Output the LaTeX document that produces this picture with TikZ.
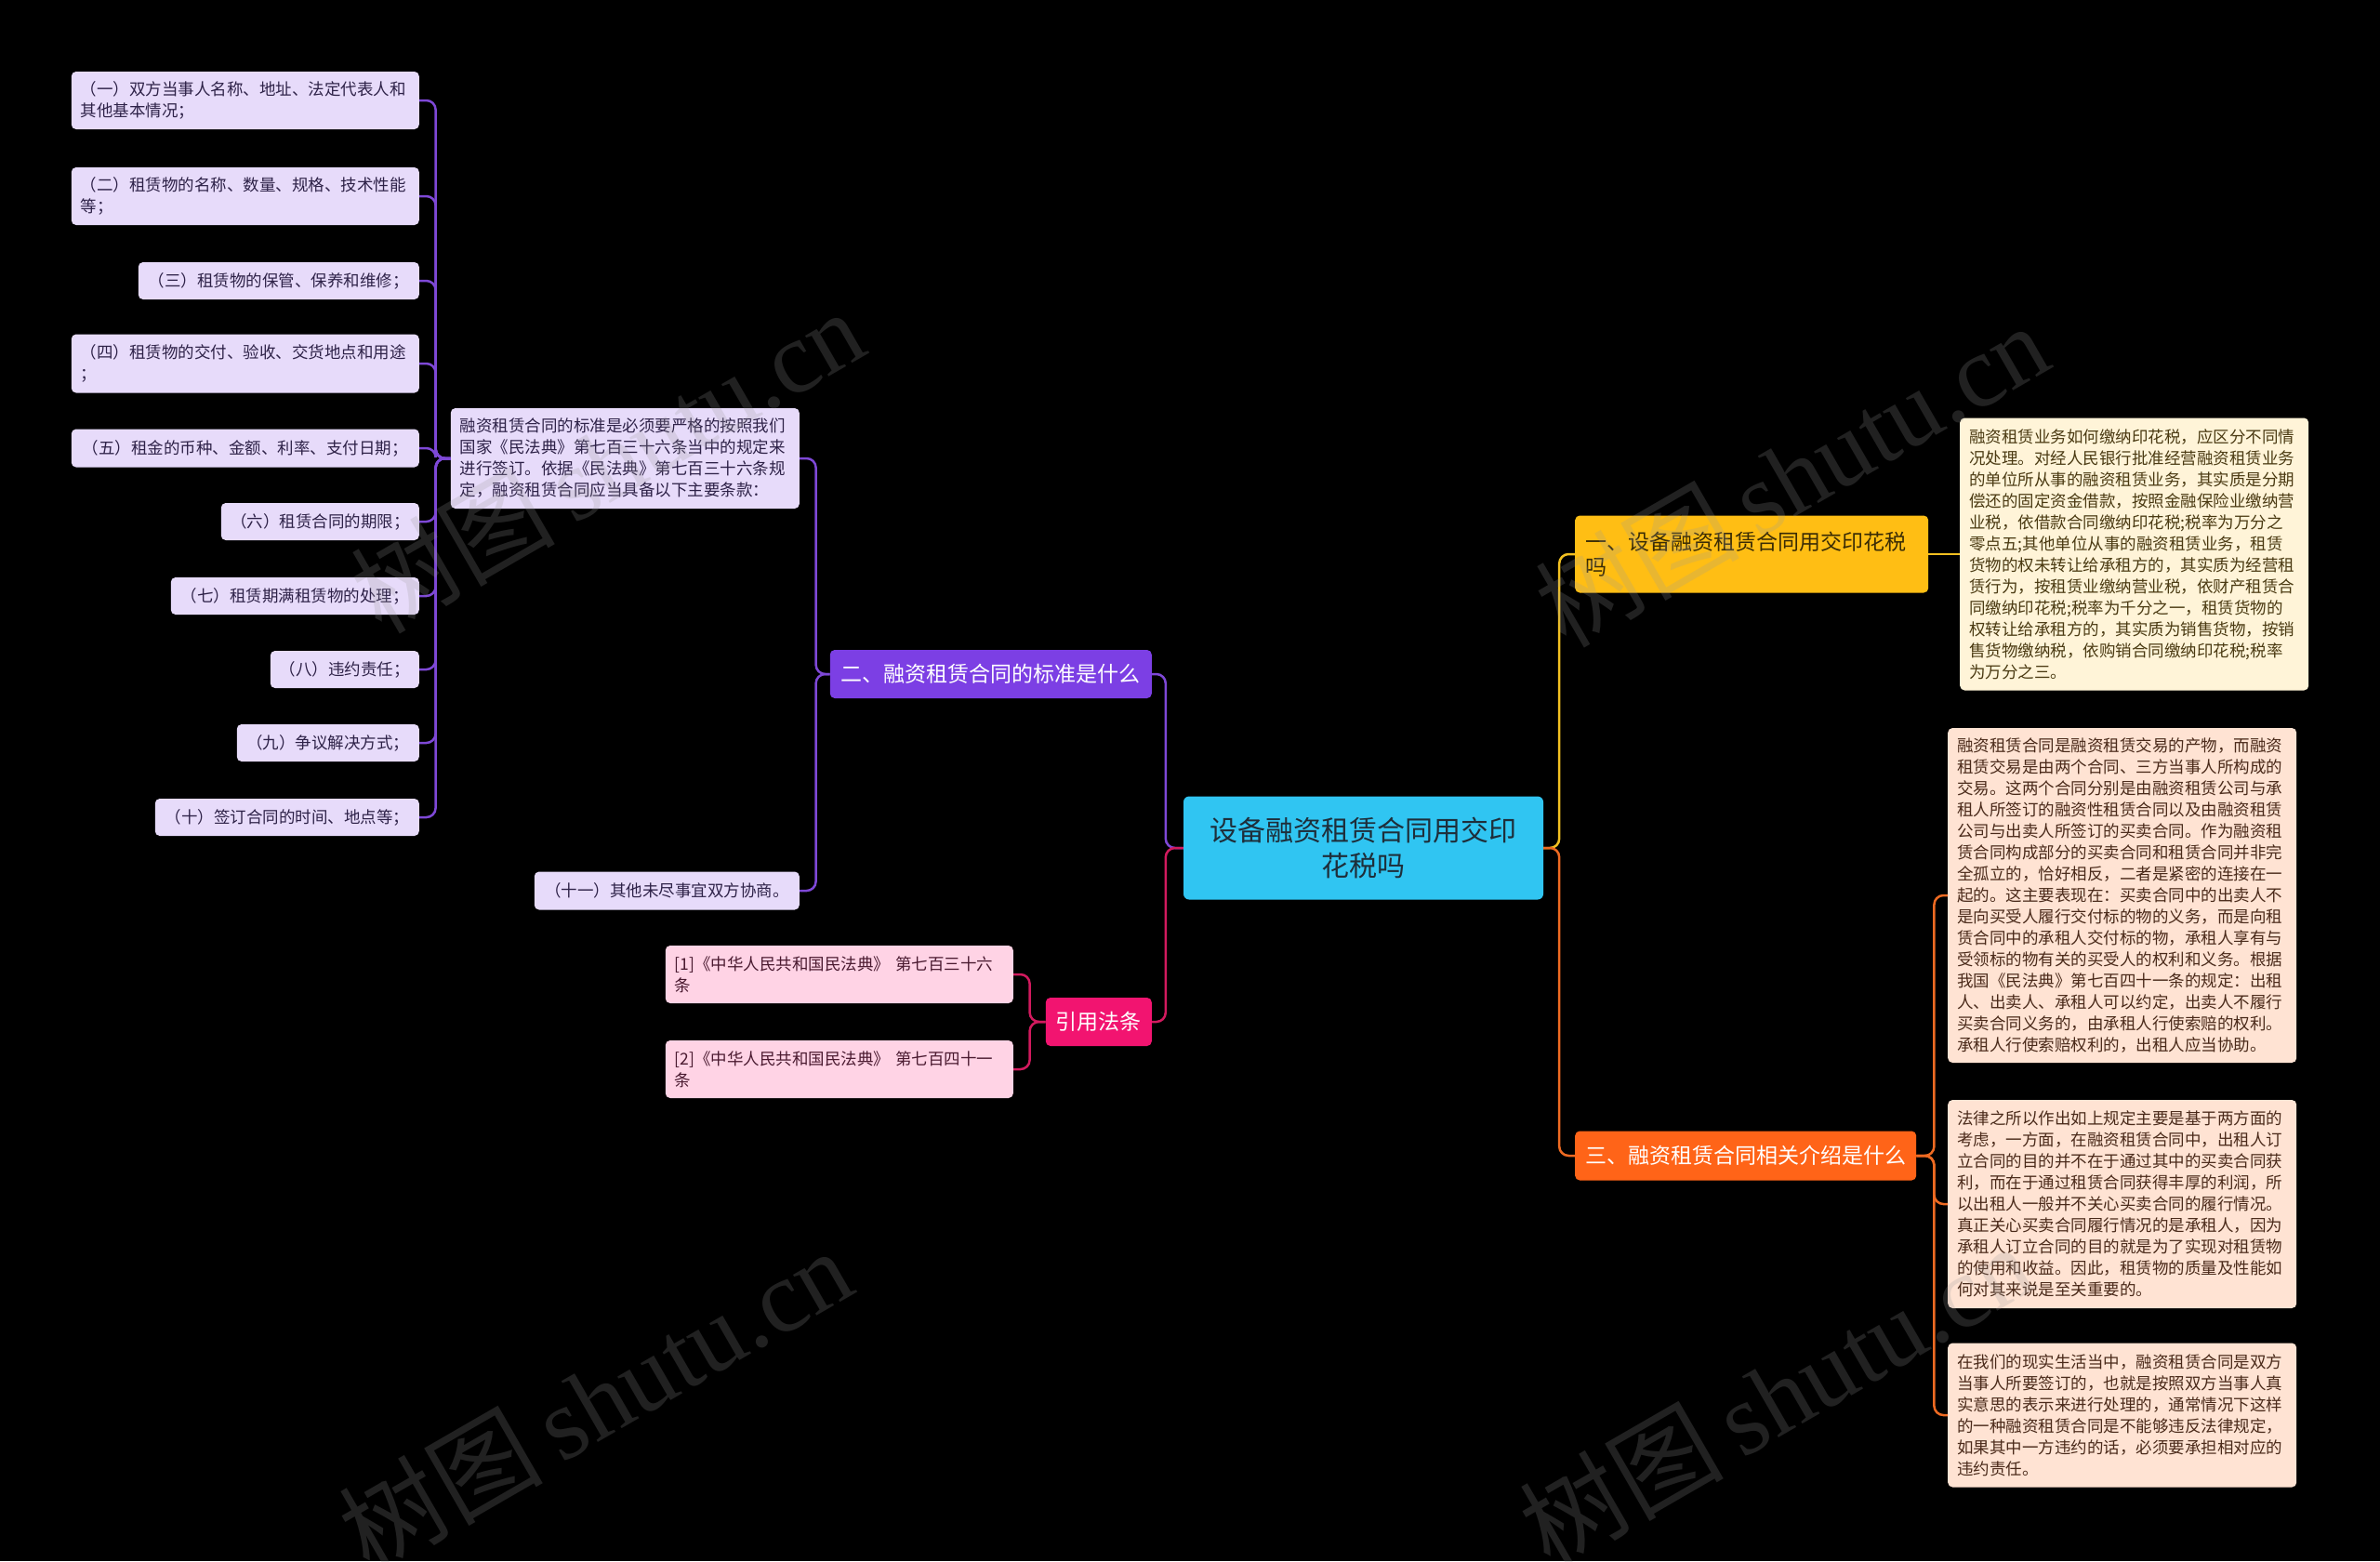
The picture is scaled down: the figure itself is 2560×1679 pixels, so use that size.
\documentclass[tikz,border=0pt]{standalone}
\usepackage{fontspec}
\setmainfont{Noto Sans CJK SC}
\newfontfamily\wmserif{Liberation Serif}
\newfontfamily\wmcjk{Noto Sans CJK SC}
\usetikzlibrary{calc}

\definecolor{cblue}{HTML}{30C5F2}
\definecolor{cbluetxt}{HTML}{1E2E3A}
\definecolor{cyel}{HTML}{FFBE14}
\definecolor{cyeltxtd}{HTML}{3A2C05}
\definecolor{cyelline}{HTML}{F2C021}
\definecolor{cyelleaf}{HTML}{FFF4D8}
\definecolor{cyeltxt}{HTML}{4A3A12}
\definecolor{cora}{HTML}{FF6418}
\definecolor{coraline}{HTML}{EE6A22}
\definecolor{coraleaf}{HTML}{FFE3D3}
\definecolor{coratxt}{HTML}{4A2A1A}
\definecolor{cpur}{HTML}{7C3FE4}
\definecolor{cpurline}{HTML}{7E48D6}
\definecolor{cpurleaf}{HTML}{E7DBFA}
\definecolor{cpurtxt}{HTML}{2E2248}
\definecolor{cpink}{HTML}{F21470}
\definecolor{cpinkline}{HTML}{D21A5E}
\definecolor{cpinkleaf}{HTML}{FFD3E5}
\definecolor{cpinktxt}{HTML}{4A1A30}
\definecolor{wmgray}{HTML}{9A9A9A}

\tikzset{
  box/.style={rounded corners=5pt, align=left, inner xsep=10pt, inner ysep=0pt,
    font=\fontsize{17.5}{23}\selectfont},
  purleaf/.style={box, fill=cpurleaf, text=cpurtxt},
  pinkleaf/.style={box, fill=cpinkleaf, text=cpinktxt},
  yelleaf/.style={box, fill=cyelleaf, text=cyeltxt},
  oraleaf/.style={box, fill=coraleaf, text=coratxt},
  topic/.style={rounded corners=5pt, inner xsep=11pt, inner ysep=0pt,
    font=\fontsize{23}{27}\selectfont},
  conn/.style={line width=2.5pt, rounded corners=10pt},
  wmark/.style={text=wmgray, opacity=0.22, rotate=30, inner sep=0pt}
}

\begin{document}
\begin{tikzpicture}[x=1pt, y=-1pt]
\fill[black] (0,0) rectangle (2560,1679);
\useasboundingbox (0,0) rectangle (2560,1679);

% central node
\node[rounded corners=6pt, fill=cblue, text=cbluetxt, align=center, text width=370pt,
  minimum width=387pt, minimum height=111pt, inner sep=0pt,
  font=\fontsize{30}{38}\selectfont] (c) at (1466.5,912) {设备融资租赁合同用交印\\花税吗};

% level 1
\node[topic, fill=cpur, text=white, minimum width=346pt, minimum height=52pt, anchor=east]
  (p) at (1239,725) {二、融资租赁合同的标准是什么};
\node[topic, fill=cpink, text=white, minimum width=114pt, minimum height=52pt, anchor=east]
  (q) at (1239,1099) {引用法条};
\node[topic, fill=cyel, text=cyeltxtd, align=left, text width=358pt, minimum height=83pt, anchor=west]
  (y) at (1694,596) {一、设备融资租赁合同用交印花税\\吗};
\node[topic, fill=cora, text=white, minimum width=367pt, minimum height=53pt, anchor=west]
  (o) at (1694,1243) {三、融资租赁合同相关介绍是什么};

% purple branch
\node[purleaf, anchor=east, text width=355pt, minimum height=108pt] (m) at (860,493)
  {融资租赁合同的标准是必须要严格的按照我们\\国家《民法典》第七百三十六条当中的规定来\\进行签订。依据《民法典》第七百三十六条规\\定，融资租赁合同应当具备以下主要条款：};
\node[purleaf, anchor=east, minimum width=285pt, minimum height=41pt] (l11) at (860,958)
  {（十一）其他未尽事宜双方协商。};

\node[purleaf, anchor=east, text width=354pt, minimum height=62pt] (l1) at (451,108)
  {（一）双方当事人名称、地址、法定代表人和\\其他基本情况；};
\node[purleaf, anchor=east, text width=354pt, minimum height=62pt] (l2) at (451,211)
  {（二）租赁物的名称、数量、规格、技术性能\\等；};
\node[purleaf, anchor=east, minimum width=302pt, minimum height=40pt] (l3) at (451,302)
  {（三）租赁物的保管、保养和维修；};
\node[purleaf, anchor=east, text width=354pt, minimum height=63pt] (l4) at (451,391)
  {（四）租赁物的交付、验收、交货地点和用途\\；};
\node[purleaf, anchor=east, minimum width=374pt, minimum height=41pt] (l5) at (451,482)
  {（五）租金的币种、金额、利率、支付日期；};
\node[purleaf, anchor=east, minimum width=213pt, minimum height=40pt] (l6) at (451,561)
  {（六）租赁合同的期限；};
\node[purleaf, anchor=east, minimum width=267pt, minimum height=40pt] (l7) at (451,641)
  {（七）租赁期满租赁物的处理；};
\node[purleaf, anchor=east, minimum width=160pt, minimum height=40pt] (l8) at (451,720)
  {（八）违约责任；};
\node[purleaf, anchor=east, minimum width=196pt, minimum height=40pt] (l9) at (451,799)
  {（九）争议解决方式；};
\node[purleaf, anchor=east, minimum width=284pt, minimum height=40pt] (l10) at (451,879)
  {（十）签订合同的时间、地点等；};

% pink branch
\node[pinkleaf, anchor=east, text width=354pt, minimum height=62pt] (r1) at (1090,1048)
  {[1]《中华人民共和国民法典》 第七百三十六\\条};
\node[pinkleaf, anchor=east, text width=354pt, minimum height=62pt] (r2) at (1090,1150)
  {[2]《中华人民共和国民法典》 第七百四十一\\条};

% yellow leaf
\node[yelleaf, anchor=west, text width=355pt, minimum height=293pt] (yl) at (2108,596)
  {融资租赁业务如何缴纳印花税，应区分不同情\\况处理。对经人民银行批准经营融资租赁业务\\的单位所从事的融资租赁业务，其实质是分期\\偿还的固定资金借款，按照金融保险业缴纳营\\业税，依借款合同缴纳印花税;税率为万分之\\零点五;其他单位从事的融资租赁业务，租赁\\货物的权未转让给承租方的，其实质为经营租\\赁行为，按租赁业缴纳营业税，依财产租赁合\\同缴纳印花税;税率为千分之一，租赁货物的\\权转让给承租方的，其实质为销售货物，按销\\售货物缴纳税，依购销合同缴纳印花税;税率\\为万分之三。};

% orange leaves
\node[oraleaf, anchor=west, text width=355pt, minimum height=360pt] (oa) at (2095,963)
  {融资租赁合同是融资租赁交易的产物，而融资\\租赁交易是由两个合同、三方当事人所构成的\\交易。这两个合同分别是由融资租赁公司与承\\租人所签订的融资性租赁合同以及由融资租赁\\公司与出卖人所签订的买卖合同。作为融资租\\赁合同构成部分的买卖合同和租赁合同并非完\\全孤立的，恰好相反，二者是紧密的连接在一\\起的。这主要表现在：买卖合同中的出卖人不\\是向买受人履行交付标的物的义务，而是向租\\赁合同中的承租人交付标的物，承租人享有与\\受领标的物有关的买受人的权利和义务。根据\\我国《民法典》第七百四十一条的规定：出租\\人、出卖人、承租人可以约定，出卖人不履行\\买卖合同义务的，由承租人行使索赔的权利。\\承租人行使索赔权利的，出租人应当协助。};
\node[oraleaf, anchor=west, text width=355pt, minimum height=224pt] (ob) at (2095,1295)
  {法律之所以作出如上规定主要是基于两方面的\\考虑，一方面，在融资租赁合同中，出租人订\\立合同的目的并不在于通过其中的买卖合同获\\利，而在于通过租赁合同获得丰厚的利润，所\\以出租人一般并不关心买卖合同的履行情况。\\真正关心买卖合同履行情况的是承租人，因为\\承租人订立合同的目的就是为了实现对租赁物\\的使用和收益。因此，租赁物的质量及性能如\\何对其来说是至关重要的。};
\node[oraleaf, anchor=west, text width=355pt, minimum height=155pt] (oc) at (2095,1522)
  {在我们的现实生活当中，融资租赁合同是双方\\当事人所要签订的，也就是按照双方当事人真\\实意思的表示来进行处理的，通常情况下这样\\的一种融资租赁合同是不能够违反法律规定，\\如果其中一方违约的话，必须要承担相对应的\\违约责任。};

% connectors
\draw[conn, cpurline] (c.west) -- ++(-19,0) |- (p.east);
\draw[conn, cpinkline] (c.west) -- ++(-19,0) |- (q.east);
\draw[conn, cyelline] (c.east) -- ++(17,0) |- (y.west);
\draw[conn, coraline] (c.east) -- ++(17,0) |- (o.west);

\draw[conn, cpurline] (p.west) -- ++(-15,0) |- (m.east);
\draw[conn, cpurline] (p.west) -- ++(-15,0) |- (l11.east);
\foreach \n in {l1,l2,l3,l4,l5,l6,l7,l8,l9,l10}
  \draw[conn, cpurline] (m.west) -- ++(-16,0) |- (\n.east);

\draw[conn, cpinkline] (q.west) -- ++(-17,0) |- (r1.east);
\draw[conn, cpinkline] (q.west) -- ++(-17,0) |- (r2.east);

\draw[conn, cyelline] (y.east) -- (yl.west);

\draw[conn, coraline] (o.east) -- ++(19,0) |- (oa.west);
\draw[conn, coraline] (o.east) -- ++(19,0) |- (ob.west);
\draw[conn, coraline] (o.east) -- ++(19,0) |- (oc.west);

% watermarks
\node[wmark] (wm1) at (653,495) {\fontsize{110}{110}\selectfont\wmcjk 树图\,\wmserif shutu.cn};
\node[wmark] (wm2) at (1927,510) {\fontsize{110}{110}\selectfont\wmcjk 树图\,\wmserif shutu.cn};
\node[wmark] (wm3) at (640,1505) {\fontsize{110}{110}\selectfont\wmcjk 树图\,\wmserif shutu.cn};
\node[wmark] (wm4) at (1910,1500) {\fontsize{110}{110}\selectfont\wmcjk 树图\,\wmserif shutu.cn};
\end{tikzpicture}
\end{document}
